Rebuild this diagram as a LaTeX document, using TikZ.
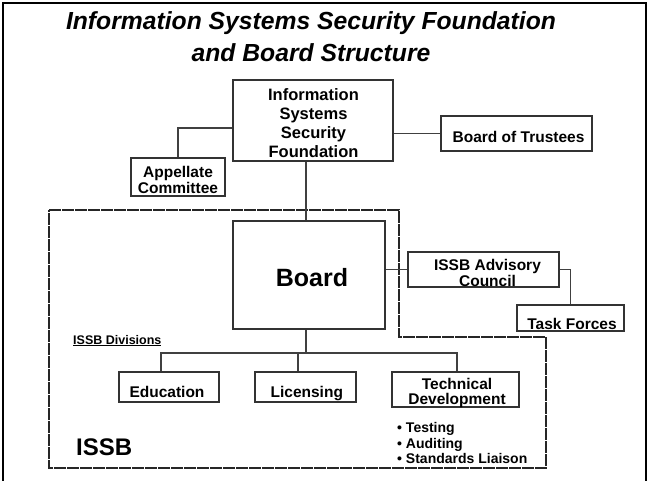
\documentclass[tikz,border=0pt]{standalone}
\usepackage{fontspec}
\setmainfont{Liberation Sans}
\begin{document}
\begin{tikzpicture}[x=1pt,y=-1pt,
  box/.style={draw=black!80,line width=1.1pt,rectangle,inner sep=0pt},
  lbl/.style={font=\bfseries\fontsize{15.5}{18}\selectfont,anchor=base,inner sep=0pt},
  conn/.style={draw=black!75,line width=1.1pt},
  region/.style={draw=black!85,line width=1.1pt,dash pattern=on 12pt off 1pt}]
\useasboundingbox (0,0) rectangle (648,481);
% outer frame
\draw[line width=2.4pt] (3,481) -- (3,3) -- (646,3) -- (646,481);
% title
\node[font=\bfseries\itshape\fontsize{24.7}{30}\selectfont,anchor=base,inner sep=0pt] (t1) at (311,30) {Information Systems Security Foundation};
\node[font=\bfseries\itshape\fontsize{24.7}{30}\selectfont,anchor=base,inner sep=0pt] (t2) at (311,61.5) {and Board Structure};
% ISSB region
\draw[region] (49,210) -- (399,210) -- (399,337) -- (546,337) -- (546,468) -- (49,468) -- cycle;
% boxes
\node[box,minimum width=160pt,minimum height=81pt] (issf) at (313,120.5) {};
\node[box,minimum width=151pt,minimum height=35pt] (bot) at (516.5,133.5) {};
\node[box,minimum width=94pt,minimum height=38pt] (app) at (178,177) {};
\node[box,minimum width=152pt,minimum height=108pt] (board) at (309,275) {};
\node[box,minimum width=151pt,minimum height=35pt] (adv) at (483.5,269.5) {};
\node[box,minimum width=107pt,minimum height=26pt] (task) at (570.5,318) {};
\node[box,minimum width=100pt,minimum height=30pt] (edu) at (169,387) {};
\node[box,minimum width=101pt,minimum height=30pt] (lic) at (305.5,387) {};
\node[box,minimum width=127pt,minimum height=35pt] (tech) at (455.5,389.5) {};
% texts
\node[lbl,font=\bfseries\fontsize{16.5}{19}\selectfont] (issf1) at (313.5,101) {Information};
\node[lbl,font=\bfseries\fontsize{16.5}{19}\selectfont] (issf2) at (313.5,120) {Systems};
\node[lbl,font=\bfseries\fontsize{16.5}{19}\selectfont] (issf3) at (313.5,139) {Security};
\node[lbl,font=\bfseries\fontsize{16.5}{19}\selectfont] (issf4) at (313.5,158) {Foundation};
\node[lbl] (bott) at (518.5,143) {Board of Trustees};
\node[lbl] (app1) at (178,178) {Appellate};
\node[lbl] (app2) at (178,194) {Committee};
\node[lbl,font=\bfseries\fontsize{25}{30}\selectfont] (boardt) at (312,287) {Board};
\node[lbl] (adv1) at (487.5,270) {ISSB Advisory};
\node[lbl] (adv2) at (487.5,286) {Council};
\node[lbl] (taskt) at (572,329) {Task Forces};
\node[lbl,font=\bfseries\fontsize{12.5}{15}\selectfont,anchor=base west] (div) at (73,344) {\underline{ISSB Divisions}};
\node[lbl] (edut) at (167,397) {Education};
\node[lbl] (lict) at (306.8,397) {Licensing};
\node[lbl] (tech1) at (457,389) {Technical};
\node[lbl] (tech2) at (457,404) {Development};
\node[lbl,font=\bfseries\fontsize{14}{16}\selectfont,anchor=base west] (b1) at (397,432) {\textbullet\ Testing};
\node[lbl,font=\bfseries\fontsize{14}{16}\selectfont,anchor=base west] (b2) at (397,448) {\textbullet\ Auditing};
\node[lbl,font=\bfseries\fontsize{14}{16}\selectfont,anchor=base west] (b3) at (397,463) {\textbullet\ Standards Liaison};
\node[lbl,font=\bfseries\fontsize{24}{28}\selectfont,anchor=base west] (issb) at (76,455) {ISSB};
% connectors
\draw[conn] ([yshift=-7.5pt]issf.west) -| (app.north);
\draw[conn] (issf.east |- bot.west) -- (bot.west);
\coordinate (v) at (306,0);
\draw[conn] (v |- issf.south) -- (v |- board.north);
\draw[conn] (board.east |- adv.west) -- (adv.west);
\draw[conn] (adv.east) -| (task.north);
\coordinate (busB) at (306,353);
\coordinate (busL) at (161,353);
\coordinate (busM) at (298,353);
\coordinate (busR) at (457,353);
\draw[conn] (busB |- board.south) -- (busB);
\draw[conn] (busL |- edu.north) -- (busL) -- (busR) -- (busR |- tech.north);
\draw[conn] (busM) -- (busM |- lic.north);
\end{tikzpicture}
\end{document}
